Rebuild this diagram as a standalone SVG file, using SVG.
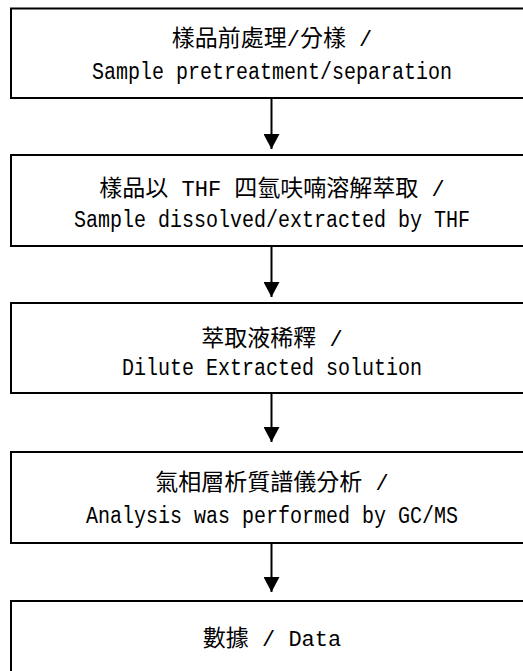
<svg xmlns="http://www.w3.org/2000/svg" width="523" height="671" viewBox="0 0 523 671">
<style>
.box{fill:#fff;stroke:#000;stroke-width:2}
.t{text-anchor:middle;fill:#000;font-size:22px;font-family:"Liberation Mono","Noto Sans CJK TC",monospace}
.l{font-size:23px}
.c{font-family:"Noto Sans CJK TC","Noto Sans CJK SC",sans-serif;font-size:23px}
.conn{stroke:#000;stroke-width:2;fill:none;marker-end:url(#ah)}
</style>
<defs>
<marker id="ah" viewBox="0 0 15 16" refX="15" refY="8" markerWidth="15" markerHeight="16" markerUnits="userSpaceOnUse" orient="auto">
<path d="M0,0 L15,8 L0,16 Z" fill="#000"/>
</marker>
</defs>
<rect width="523" height="671" fill="#fff"/>
<g id="connectors">
<line class="conn" x1="271.5" y1="98" x2="271.5" y2="149"/>
<line class="conn" x1="271.5" y1="246" x2="271.5" y2="297"/>
<line class="conn" x1="271.5" y1="393" x2="271.5" y2="442"/>
<line class="conn" x1="271.5" y1="543" x2="271.5" y2="592"/>
</g>
<g id="node1">
<rect class="box" x="11" y="8.5" width="522" height="89.5"/>
<text class="t" x="272" y="46"><tspan class="c">樣品前處理</tspan>/<tspan class="c">分樣</tspan> /</text>
<text class="t l" x="272" y="79" textLength="360" lengthAdjust="spacingAndGlyphs">Sample pretreatment/separation</text>
</g>
<g id="node2">
<rect class="box" x="11" y="155" width="522" height="91"/>
<text class="t" x="272" y="196"><tspan class="c">樣品以</tspan> THF <tspan class="c">四氫呋喃溶解萃取</tspan> /</text>
<text class="t l" x="272" y="227" textLength="396" lengthAdjust="spacingAndGlyphs">Sample dissolved/extracted by THF</text>
</g>
<g id="node3">
<rect class="box" x="11" y="303" width="522" height="90"/>
<text class="t" x="272" y="346"><tspan class="c">萃取液稀釋</tspan> /</text>
<text class="t l" x="272" y="375" textLength="300" lengthAdjust="spacingAndGlyphs">Dilute Extracted solution</text>
</g>
<g id="node4">
<rect class="box" x="11" y="452" width="522" height="91"/>
<text class="t" x="272" y="490"><tspan class="c">氣相層析質譜儀分析</tspan> /</text>
<text class="t l" x="272" y="523" textLength="372" lengthAdjust="spacingAndGlyphs">Analysis was performed by GC/MS</text>
</g>
<g id="node5">
<rect class="box" x="11" y="601" width="522" height="100"/>
<text class="t" x="272" y="646"><tspan class="c">數據</tspan> / Data</text>
</g>
</svg>
